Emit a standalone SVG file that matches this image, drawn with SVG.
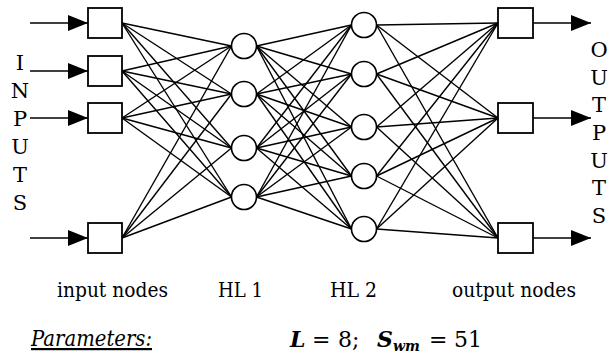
<svg xmlns="http://www.w3.org/2000/svg" width="608" height="358" viewBox="0 0 608 358">
<style>
.e{stroke:#000;stroke-width:1.4;fill:none}
.a{stroke:#000;stroke-width:1.6;fill:none}
.sq{fill:#fff;stroke:#000;stroke-width:1.8}
.ci{fill:#fff;stroke:#000;stroke-width:1.6}
.t{font-family:'DejaVu Serif','Liberation Serif',serif;fill:#000}
.lt{text-anchor:middle}
.bi{font-weight:bold;font-style:italic}
</style>
<defs>
<marker id="arr" viewBox="0 0 20 16" refX="20" refY="8" markerWidth="20" markerHeight="16" markerUnits="userSpaceOnUse" orient="auto">
<path d="M0,0 L20,8 L0,16 z" fill="#000"/>
</marker>
</defs>
<g id="connectors">
<g id="in-hl1">
<line class="e" x1="122" y1="23" x2="231.5" y2="46"/><line class="e" x1="122" y1="23" x2="231.5" y2="94"/><line class="e" x1="122" y1="23" x2="231.5" y2="148"/><line class="e" x1="122" y1="23" x2="231.5" y2="197"/>
<line class="e" x1="122" y1="71" x2="231.5" y2="46"/><line class="e" x1="122" y1="71" x2="231.5" y2="94"/><line class="e" x1="122" y1="71" x2="231.5" y2="148"/><line class="e" x1="122" y1="71" x2="231.5" y2="197"/>
<line class="e" x1="122" y1="118" x2="231.5" y2="46"/><line class="e" x1="122" y1="118" x2="231.5" y2="94"/><line class="e" x1="122" y1="118" x2="231.5" y2="148"/><line class="e" x1="122" y1="118" x2="231.5" y2="197"/>
<line class="e" x1="122" y1="238" x2="231.5" y2="46"/><line class="e" x1="122" y1="238" x2="231.5" y2="94"/><line class="e" x1="122" y1="238" x2="231.5" y2="148"/><line class="e" x1="122" y1="238" x2="231.5" y2="197"/>
</g>
<g id="hl1-hl2">
<line class="e" x1="256.5" y1="46" x2="351.5" y2="25"/><line class="e" x1="256.5" y1="46" x2="351.5" y2="74"/><line class="e" x1="256.5" y1="46" x2="351.5" y2="127"/><line class="e" x1="256.5" y1="46" x2="351.5" y2="176"/><line class="e" x1="256.5" y1="46" x2="351.5" y2="229"/>
<line class="e" x1="256.5" y1="94" x2="351.5" y2="25"/><line class="e" x1="256.5" y1="94" x2="351.5" y2="74"/><line class="e" x1="256.5" y1="94" x2="351.5" y2="127"/><line class="e" x1="256.5" y1="94" x2="351.5" y2="176"/><line class="e" x1="256.5" y1="94" x2="351.5" y2="229"/>
<line class="e" x1="256.5" y1="148" x2="351.5" y2="25"/><line class="e" x1="256.5" y1="148" x2="351.5" y2="74"/><line class="e" x1="256.5" y1="148" x2="351.5" y2="127"/><line class="e" x1="256.5" y1="148" x2="351.5" y2="176"/><line class="e" x1="256.5" y1="148" x2="351.5" y2="229"/>
<line class="e" x1="256.5" y1="197" x2="351.5" y2="25"/><line class="e" x1="256.5" y1="197" x2="351.5" y2="74"/><line class="e" x1="256.5" y1="197" x2="351.5" y2="127"/><line class="e" x1="256.5" y1="197" x2="351.5" y2="176"/><line class="e" x1="256.5" y1="197" x2="351.5" y2="229"/>
</g>
<g id="hl2-out">
<line class="e" x1="376.5" y1="25" x2="498" y2="23"/><line class="e" x1="376.5" y1="25" x2="498" y2="118"/><line class="e" x1="376.5" y1="25" x2="498" y2="238"/>
<line class="e" x1="376.5" y1="74" x2="498" y2="23"/><line class="e" x1="376.5" y1="74" x2="498" y2="118"/><line class="e" x1="376.5" y1="74" x2="498" y2="238"/>
<line class="e" x1="376.5" y1="127" x2="498" y2="23"/><line class="e" x1="376.5" y1="127" x2="498" y2="118"/><line class="e" x1="376.5" y1="127" x2="498" y2="238"/>
<line class="e" x1="376.5" y1="176" x2="498" y2="23"/><line class="e" x1="376.5" y1="176" x2="498" y2="118"/><line class="e" x1="376.5" y1="176" x2="498" y2="238"/>
<line class="e" x1="376.5" y1="229" x2="498" y2="23"/><line class="e" x1="376.5" y1="229" x2="498" y2="118"/><line class="e" x1="376.5" y1="229" x2="498" y2="238"/>
</g>
<g id="io-arrows">
<line class="a" x1="30" y1="23" x2="88" y2="23" marker-end="url(#arr)"/>
<line class="a" x1="30" y1="71" x2="88" y2="71" marker-end="url(#arr)"/>
<line class="a" x1="30" y1="118" x2="88" y2="118" marker-end="url(#arr)"/>
<line class="a" x1="30" y1="238" x2="88" y2="238" marker-end="url(#arr)"/>
<line class="a" x1="533" y1="23" x2="591" y2="23" marker-end="url(#arr)"/>
<line class="a" x1="533" y1="118" x2="591" y2="118" marker-end="url(#arr)"/>
<line class="a" x1="533" y1="238" x2="591" y2="238" marker-end="url(#arr)"/>
</g>
</g>
<g id="in1"><rect class="sq" x="88" y="8" width="34" height="30"/></g>
<g id="in2"><rect class="sq" x="88" y="56" width="34" height="30"/></g>
<g id="in3"><rect class="sq" x="88" y="103" width="34" height="30"/></g>
<g id="in4"><rect class="sq" x="88" y="223" width="34" height="30"/></g>
<g id="h1a"><circle class="ci" cx="244" cy="46" r="12.5"/></g>
<g id="h1b"><circle class="ci" cx="244" cy="94" r="12.5"/></g>
<g id="h1c"><circle class="ci" cx="244" cy="148" r="12.5"/></g>
<g id="h1d"><circle class="ci" cx="244" cy="197" r="12.5"/></g>
<g id="h2a"><circle class="ci" cx="364" cy="25" r="12.5"/></g>
<g id="h2b"><circle class="ci" cx="364" cy="74" r="12.5"/></g>
<g id="h2c"><circle class="ci" cx="364" cy="127" r="12.5"/></g>
<g id="h2d"><circle class="ci" cx="364" cy="176" r="12.5"/></g>
<g id="h2e"><circle class="ci" cx="364" cy="229" r="12.5"/></g>
<g id="out1"><rect class="sq" x="498" y="8" width="35" height="30"/></g>
<g id="out2"><rect class="sq" x="498" y="103" width="35" height="30"/></g>
<g id="out3"><rect class="sq" x="498" y="223" width="35" height="30"/></g>
<g id="inputs-label" class="t" font-size="21">
<text class="lt" x="20" y="70">I</text>
<text class="lt" x="20" y="98">N</text>
<text class="lt" x="20" y="126">P</text>
<text class="lt" x="20" y="154">U</text>
<text class="lt" x="20" y="182">T</text>
<text class="lt" x="20" y="210">S</text>
</g>
<g id="outputs-label" class="t" font-size="21">
<text class="lt" x="599" y="57">O</text>
<text class="lt" x="599" y="85">U</text>
<text class="lt" x="599" y="112">T</text>
<text class="lt" x="599" y="140">P</text>
<text class="lt" x="599" y="168">U</text>
<text class="lt" x="599" y="195">T</text>
<text class="lt" x="599" y="223">S</text>
</g>
<g id="layer-labels" class="t" font-size="21">
<text x="57" y="297" textLength="111" lengthAdjust="spacingAndGlyphs">input nodes</text>
<text x="218" y="297" textLength="45" lengthAdjust="spacingAndGlyphs">HL 1</text>
<text x="330" y="297" textLength="47" lengthAdjust="spacingAndGlyphs">HL 2</text>
<text x="452" y="297" textLength="124" lengthAdjust="spacingAndGlyphs">output nodes</text>
</g>
<g id="params" class="t" font-size="22">
<text x="31" y="346" font-style="italic" text-decoration="underline" textLength="121" lengthAdjust="spacingAndGlyphs">Parameters:</text>
<text y="347"><tspan class="bi" x="290">L</tspan><tspan x="312">=</tspan><tspan x="338">8;</tspan><tspan class="bi" x="377">S</tspan><tspan class="bi" font-size="14" dy="4">wm</tspan><tspan dy="-4" x="429">=</tspan><tspan x="454">51</tspan></text>
</g>
</svg>
